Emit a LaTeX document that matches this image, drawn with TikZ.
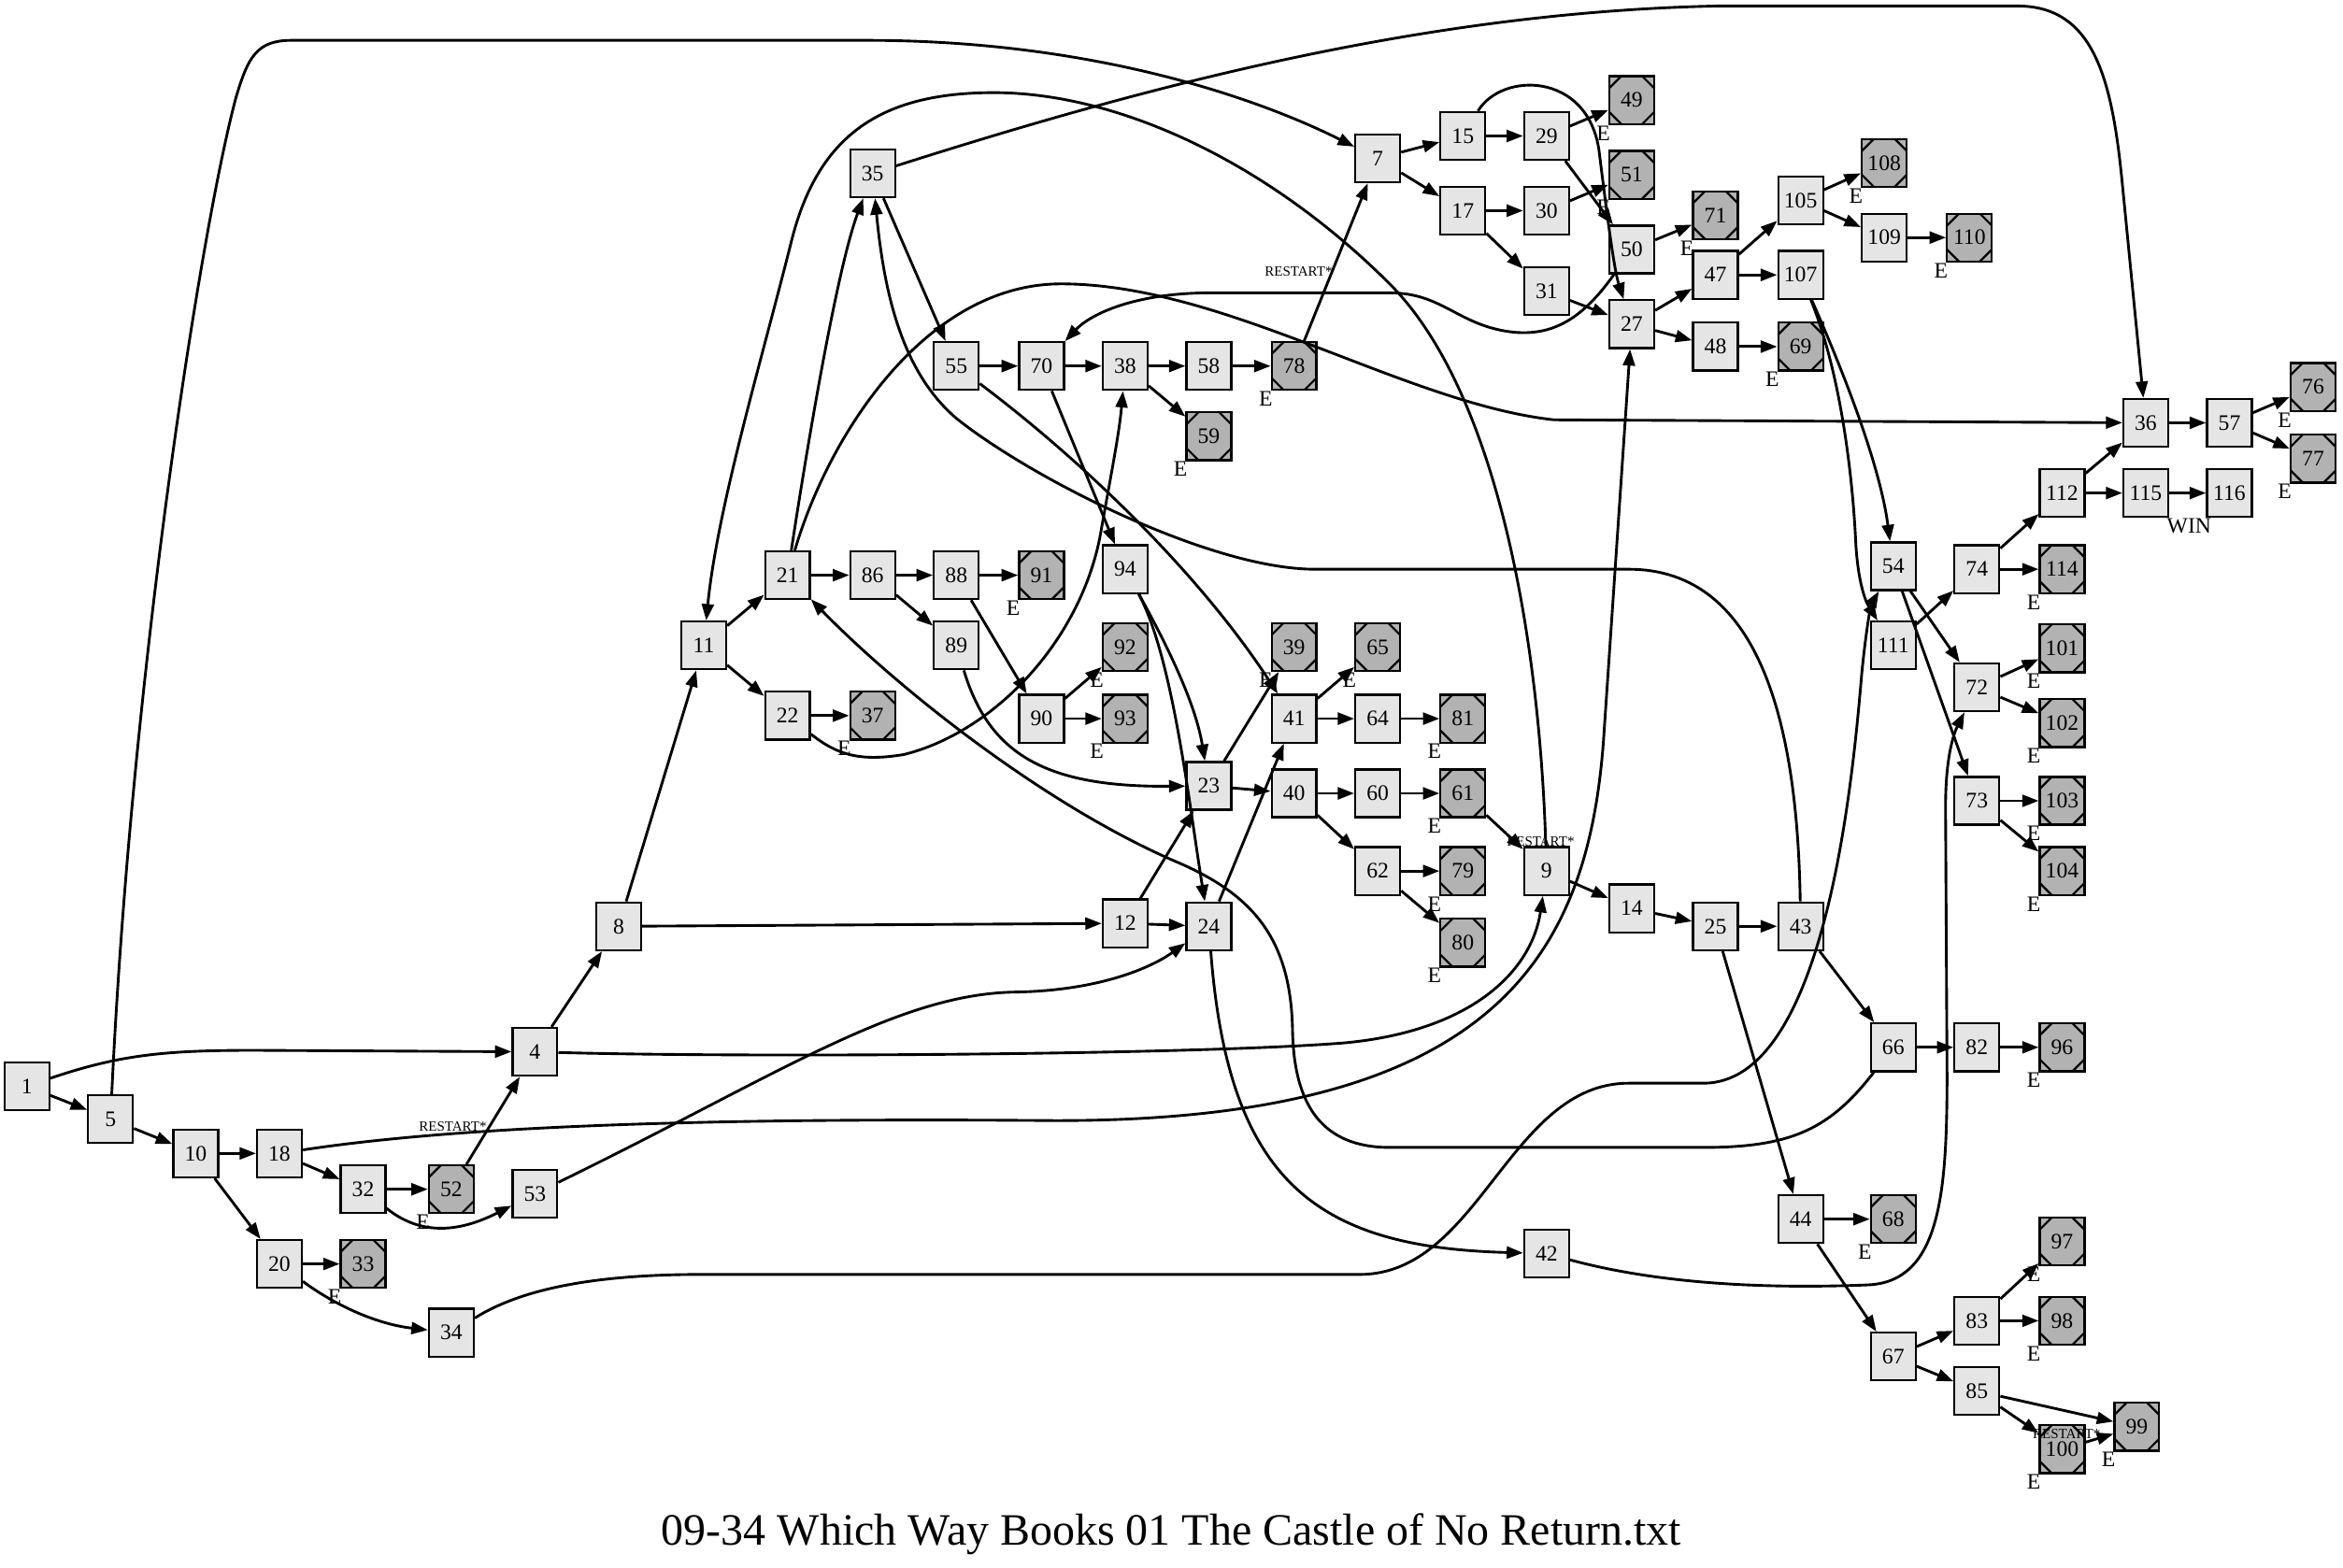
\documentclass[tikz,border=0pt]{standalone}
\usepackage{fontspec}
\setmainfont{Liberation Serif}
\usetikzlibrary{arrows.meta}
\definecolor{nodefill}{gray}{0.9}
\definecolor{endfill}{gray}{0.7}
\newcommand\mkS[3]{\node[sq] (n#1) at (#2,#3) {#1};}
\newcommand\mkT[3]{\node[oc] (n#1) at (#2,#3) {#1};\node[lab] (e#1) at ([shift={(-19,22)}]n#1.center) {E};}
\begin{document}
\begin{tikzpicture}[x=0.5pt,y=-0.5pt,
  every node/.style={font=\fontsize{7.4}{8}\selectfont},
  sq/.style={draw, line width=0.7pt, fill=nodefill, minimum width=15pt, minimum height=16pt, inner sep=0pt},
  oc/.style={sq, fill=endfill, path picture={
    \draw[line width=0.7pt]
      ([xshift=4pt]path picture bounding box.north west) -- ([yshift=-4pt]path picture bounding box.north west)
      ([xshift=-4pt]path picture bounding box.north east) -- ([yshift=-4pt]path picture bounding box.north east)
      ([xshift=4pt]path picture bounding box.south west) -- ([yshift=4pt]path picture bounding box.south west)
      ([xshift=-4pt]path picture bounding box.south east) -- ([yshift=4pt]path picture bounding box.south east);}},
  lab/.style={inner sep=0pt},
  rs/.style={inner sep=0pt, font=\fontsize{4.7}{5}\selectfont},
  e/.style={draw, line width=0.9pt, -{Triangle[length=5.5pt,width=4pt]}}]
\useasboundingbox (0,0) rectangle (1568,1049);
% nodes
\mkS{1}{18}{727}
\mkS{5}{74}{749}
\mkS{10}{131}{772}
\mkS{18}{187}{772}
\mkS{32}{243}{796}
\mkT{52}{302}{796}
\mkS{20}{187}{846}
\mkT{33}{243}{846}
\mkS{34}{302}{892}
\mkS{53}{358}{799}
\mkS{4}{358}{704}
\mkS{8}{414}{620}
\mkS{11}{471}{432}
\mkS{21}{527}{385}
\mkS{22}{527}{479}
\mkT{37}{584}{479}
\mkS{86}{584}{385}
\mkS{88}{640}{385}
\mkT{91}{697}{385}
\mkS{89}{640}{432}
\mkS{90}{697}{481}
\mkT{92}{753}{433}
\mkT{93}{753}{481}
\mkS{94}{753}{381}
\mkS{35}{584}{116}
\mkS{55}{640}{245}
\mkS{70}{697}{245}
\mkS{38}{753}{245}
\mkS{58}{809}{245}
\mkT{78}{866}{245}
\mkT{59}{809}{292}
\mkS{7}{922}{106}
\mkS{15}{979}{91}
\mkS{17}{979}{141}
\mkS{29}{1035}{91}
\mkS{30}{1035}{141}
\mkS{31}{1035}{195}
\mkT{49}{1092}{67}
\mkT{51}{1092}{117}
\mkS{50}{1092}{167}
\mkT{71}{1148}{144}
\mkS{27}{1092}{217}
\mkS{47}{1148}{184}
\mkS{48}{1148}{232}
\mkT{69}{1205}{232}
\mkS{105}{1205}{134}
\mkS{107}{1205}{184}
\mkT{108}{1261}{109}
\mkS{109}{1261}{159}
\mkT{110}{1318}{159}
\mkS{36}{1436}{283}
\mkS{57}{1492}{283}
\mkT{76}{1548}{259}
\mkT{77}{1548}{307}
\mkS{112}{1380}{330}
\mkS{115}{1436}{330}
\mkS{116}{1492}{330}
\mkS{74}{1323}{381}
\mkT{114}{1380}{381}
\mkS{54}{1267}{379}
\mkS{111}{1267}{432}
\mkS{72}{1323}{460}
\mkT{101}{1380}{434}
\mkT{102}{1380}{484}
\mkS{73}{1323}{536}
\mkT{103}{1380}{536}
\mkT{104}{1380}{583}
\mkS{23}{809}{526}
\mkS{24}{809}{620}
\mkS{12}{753}{618}
\mkT{39}{866}{433}
\mkS{41}{866}{481}
\mkT{65}{922}{433}
\mkS{64}{922}{481}
\mkT{81}{979}{481}
\mkS{40}{866}{531}
\mkS{60}{922}{531}
\mkT{61}{979}{531}
\mkS{62}{922}{583}
\mkT{79}{979}{583}
\mkT{80}{979}{631}
\mkS{9}{1035}{583}
\mkS{14}{1092}{608}
\mkS{25}{1148}{620}
\mkS{43}{1205}{620}
\mkS{66}{1267}{701}
\mkS{82}{1323}{701}
\mkT{96}{1380}{701}
\mkS{44}{1205}{816}
\mkT{68}{1267}{816}
\mkS{42}{1035}{839}
\mkS{67}{1267}{908}
\mkS{83}{1323}{884}
\mkT{97}{1380}{831}
\mkT{98}{1380}{884}
\mkS{85}{1323}{931}
\mkT{99}{1430}{955}
\mkT{100}{1380}{970}
\node[lab] (win) at ([shift={(-27,22)}]n116.center) {WIN};
\node[rs] (r52) at (303,754) {RESTART*};
\node[rs] (r78) at (869,182) {RESTART*};
\node[rs] (r61) at (1031,563) {RESTART*};
\node[rs] (r100) at (1383,960) {RESTART*};
\node[font=\fontsize{15}{18}\selectfont, inner sep=0pt] (title) at (784,1027) {09-34 Which Way Books 01 The Castle of No Return.txt};
% straight edges
\foreach \a/\b in {1/5,5/10,10/18,10/20,18/32,32/52,20/33,52/4,4/8,8/11,8/12,11/21,11/22,21/86,22/37,86/88,86/89,88/91,88/90,90/92,90/93,35/55,55/70,70/38,70/94,38/58,38/59,58/78,78/7,7/15,7/17,15/29,17/30,17/31,29/49,29/50,30/51,31/27,50/71,27/47,27/48,48/69,47/105,47/107,105/108,105/109,109/110,36/57,57/76,57/77,112/36,112/115,115/116,74/112,74/114,111/74,54/72,54/73,72/101,72/102,73/103,73/104,12/23,12/24,24/41,23/39,23/40,41/65,41/64,64/81,40/60,40/62,60/61,62/79,62/80,61/9,9/14,14/25,25/43,25/44,43/66,66/82,82/96,44/68,44/67,67/83,67/85,83/97,83/98,85/99,85/100,100/99}
  \draw[e] (n\a) -- (n\b);
% curved edges
\draw[e] (n1) .. controls (80,706) and (110,703) .. (170,703) -- (n4);
\draw[e] (n5) .. controls (88,450) and (135,150) .. (158,65) .. controls (166,38) and (172,27) .. (195,27) -- (580,27) .. controls (730,27) and (840,65) .. (n7);
\draw[e] (n18) .. controls (300,755) and (450,748) .. (700,750) .. controls (1000,752) and (1062,640) .. (1073,497) -- (n27);
\draw[e] (n34) .. controls (350,862) and (400,853) .. (470,853) -- (910,853) .. controls (990,853) and (1010,725) .. (1090,725) -- (1140,725) .. controls (1222,725) and (1240,520) .. (1246,450) .. controls (1249,420) and (1252,405) .. (n54);
\draw[e] (n4) .. controls (500,708) and (800,706) .. (900,698) .. controls (985,690) and (1025,650) .. (n9);
\draw[e] (n53) .. controls (520,720) and (600,665) .. (680,664) .. controls (735,663) and (770,648) .. (n24);
\draw[e] (n24) .. controls (822,790) and (880,835) .. (n42);
\draw[e] (n42) .. controls (1120,862) and (1200,862) .. (1250,860) .. controls (1298,858) and (1303,800) .. (1303,720) -- (1302,540) .. controls (1302,505) and (1308,490) .. (n72);
\draw[e] (n66) .. controls (1225,755) and (1200,768) .. (1140,768) -- (930,768) .. controls (885,768) and (866,740) .. (865,690) .. controls (864,630) and (840,600) .. (790,578) .. controls (700,540) and (600,460) .. (n21);
\draw[e] (n43) .. controls (1203,490) and (1180,381) .. (1090,381) -- (880,381) .. controls (810,381) and (690,320) .. (640,280) .. controls (605,250) and (592,200) .. (n35);
\draw[e] (n9) .. controls (1030,420) and (1000,260) .. (930,190) .. controls (850,110) and (750,62) .. (665,62) .. controls (590,62) and (548,90) .. (530,160) .. controls (510,240) and (480,340) .. (n11);
\draw[e] (n21) .. controls (555,290) and (620,190) .. (710,190) .. controls (820,190) and (940,270) .. (1040,281) -- (n36);
\draw[e] (n50) .. controls (1060,212) and (1040,226) .. (1010,222) .. controls (975,217) and (965,196) .. (930,196) -- (810,196) .. controls (760,196) and (730,210) .. (n70);
\draw[e] (n15) .. controls (1005,48) and (1062,48) .. (1070,100) .. controls (1075,140) and (1080,180) .. (n27);
\draw[e] (n22) .. controls (560,505) and (575,510) .. (605,505) .. controls (665,490) and (722,430) .. (736,360) .. controls (744,315) and (749,290) .. (n38);
\draw[e] (n32) .. controls (280,826) and (305,826) .. (n53);
\draw[e] (n20) .. controls (222,872) and (250,886) .. (n34);
\draw[e] (n89) .. controls (662,505) and (700,527) .. (n23);
\draw[e] (n94) .. controls (785,440) and (796,540) .. (n24);
\draw[e] (n94) .. controls (780,430) and (800,470) .. (n23);
\draw[e] (n55) .. controls (720,305) and (800,380) .. (n41);
\draw[e] (n107) .. controls (1232,245) and (1258,310) .. (n54);
\draw[e] (n107) .. controls (1232,250) and (1240,320) .. (1242,365) .. controls (1244,395) and (1250,405) .. (n111);
\draw[e] (n35) .. controls (760,60) and (950,8) .. (1150,4) -- (1350,4) .. controls (1400,4) and (1413,50) .. (1420,120) -- (n36);
\draw[e] (n21) .. controls (540,300) and (560,180) .. (n35);
\end{tikzpicture}
\end{document}
